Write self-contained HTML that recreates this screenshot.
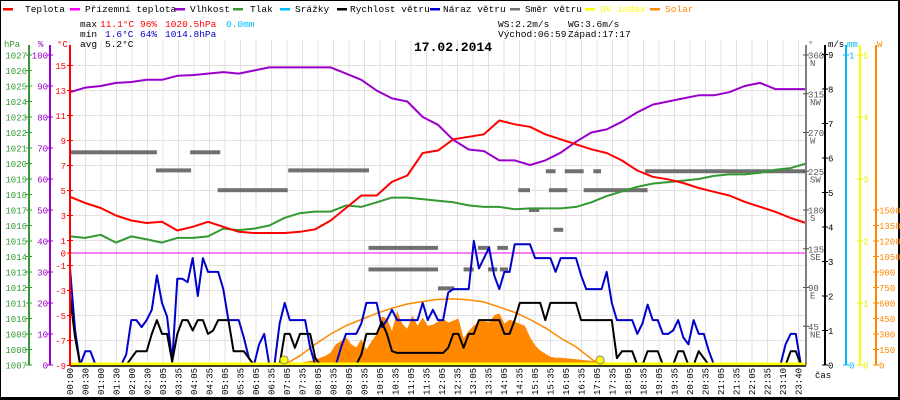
<!DOCTYPE html>
<html><head><meta charset="utf-8">
<style>
html,body{margin:0;padding:0;background:#fff;}
svg{display:block;font-family:"Liberation Mono","DejaVu Sans Mono",monospace;}
</style></head>
<body>
<svg id="chart" width="900" height="400" viewBox="0 0 900 400" xmlns="http://www.w3.org/2000/svg">
<rect x="0.5" y="0.5" width="899" height="399" fill="#fff" stroke="#000" stroke-width="1"/>
<rect x="0" y="397" width="900" height="3" fill="#000"/>
<rect x="898" y="0" width="2" height="400" fill="#000"/>
<g id="grid"></g>
<g id="legend" font-size="9.5"></g>
<g font-size="9.5">
<text x="80" y="27">max</text><text x="100" y="27" fill="#f00">11.1°C</text><text x="140" y="27" fill="#f00">96%</text><text x="165" y="27" fill="#f00">1020.5hPa</text><text x="226" y="27" fill="#0bf">0.0mm</text>
<text x="80" y="37">min</text><text x="105" y="37" fill="#00c">1.6°C</text><text x="140" y="37" fill="#00c">64%</text><text x="165" y="37" fill="#00c">1014.8hPa</text>
<text x="80" y="47">avg</text><text x="105" y="47">5.2°C</text>
<text x="498" y="27">WS:2.2m/s</text><text x="568" y="27">WG:3.6m/s</text>
<text x="498" y="37">Východ:06:59</text><text x="568" y="37">Západ:17:17</text>
</g>
<text x="414" y="51" font-size="13" font-weight="bold">17.02.2014</text>
<g id="series"></g>
<g id="axes" font-size="9"></g>
</svg>
<script>
// ---- data ----
const tempTimes30 = [0,30,60,90,120,150,180,210,240,270,300,330,360,390,420,450,480,510,540,570,600,630,660,690,720,750,780,810,840,870,900,930,960,990,1020,1050,1080,1110,1140,1170,1200,1230,1260,1290,1320,1350,1380,1410,1440];
const temperature = [4.5,4.0,3.6,3.0,2.6,2.4,2.5,1.8,2.1,2.5,2.1,1.7,1.6,1.6,1.6,1.7,1.9,2.6,3.6,4.6,4.6,5.7,6.2,8.0,8.2,9.1,9.3,9.5,10.6,10.3,10.1,9.5,9.1,8.7,8.3,8.0,7.4,6.6,6.1,5.9,5.6,5.2,4.9,4.6,4.1,3.7,3.3,2.8,2.4];
const humidity = [88,89.5,90,91,91.3,92,92,93.3,93.5,94,94.5,94,95,96,96,96,96,96,94,92,88.5,86,85,80,77.5,72.6,69.5,69,66,66,64.5,66,68.5,72,75,76,78.5,81.5,84,85,86,87,87,88,90,91,89,89,89];
const pressure = [1015.3,1015.2,1015.4,1014.9,1015.3,1015.1,1014.9,1015.2,1015.2,1015.3,1015.8,1015.7,1015.8,1016.0,1016.5,1016.8,1016.9,1016.9,1017.3,1017.2,1017.5,1017.8,1017.8,1017.7,1017.6,1017.5,1017.3,1017.2,1017.2,1017.05,1017.1,1017.1,1017.1,1017.2,1017.5,1017.9,1018.2,1018.5,1018.7,1018.8,1018.9,1019.0,1019.2,1019.3,1019.3,1019.4,1019.6,1019.7,1020.0];
// 10-minute samples, m/s
const windGust = [2.8,1.0,0,0.4,0.4,0,0,0,0,0,0,0.3,1.3,1.3,1.1,1.3,1.6,2.6,1.8,1.4,0.1,2.5,2.5,2.4,3.1,2.0,3.1,2.7,2.7,2.7,2.2,1.3,1.3,1.3,0.8,0.2,0,0.6,0.9,0,0,1.2,1.8,1.3,1.3,1.3,1.3,0.5,0,0,0,0,0,0.5,0.9,0.9,0.9,1.2,1.8,1.8,1.8,1.1,1.3,1.6,1.3,1.3,1.3,1.3,1.3,1.8,1.3,1.6,1.3,1.3,2.1,2.2,2.2,2.2,2.2,3.6,2.8,3.1,3.4,2.6,2.2,2.7,2.7,3.5,3.5,3.5,3.5,3.1,3.1,3.1,3.1,2.7,3.1,3.1,3.1,3.1,2.6,2.2,2.2,2.2,2.2,2.7,1.8,1.3,1.3,1.3,1.3,0.9,1.2,1.75,1.3,1.3,0.9,0.9,1.0,1.3,0.8,0.6,1.3,0.9,0.9,0.4,0,0,0,0,0,0,0,0,0,0,0,0,0,0,0.6,0.9,0.9,0,0];
const windSpeed = [2.0,0.8,0,0,0,0,0,0,0,0,0,0,0.2,0.4,0.4,0.4,0.9,1.3,0.9,0.9,0.1,0.9,1.3,1.3,1.0,1.3,1.3,0.9,1.0,1.3,1.3,1.3,0.4,0.4,0.4,0.2,0,0,0,0,0,0,0.9,0.9,0.5,0.9,0.9,0.9,0.2,0,0,0,0,0,0,0,0,0.3,0.9,0.9,0.9,1.25,0.9,0.4,0.35,0.35,0.35,0.35,0.35,0.35,0.35,0.35,0.35,0.35,0.5,0.9,0.9,0.5,0.9,0.9,1.3,1.3,1.3,1.3,1.3,0.9,0.9,1.3,1.8,1.8,1.8,1.8,1.8,1.3,1.8,1.8,1.8,1.8,1.8,1.8,1.3,1.3,1.3,1.3,1.3,1.3,1.3,0.2,0.4,0.4,0.4,0,0,0.4,0.4,0.4,0,0,0,0.4,0.4,0,0,0.4,0.2,0,0,0,0,0,0,0,0,0,0,0,0,0,0,0,0,0.4,0.4,0,0];
const solarStart = 420; // minutes, first solar sample
const solar = [0,5,15,20,30,40,50,70,90,120,200,230,270,200,170,250,150,230,300,470,450,330,520,400,350,480,380,460,380,390,420,450,410,430,450,260,330,380,420,430,410,480,500,400,440,420,400,380,270,190,140,110,80,70,70,65,60,55,50,45,40,35,30,25,20,20,15,12,10,8,6,4,2,0];
const clearSkyTimes = [419,450,480,510,540,570,600,630,660,690,720,750,780,810,840,870,900,930,960,990,1020,1037];
const clearSky = [0,90,200,300,380,440,500,550,590,615,635,640,630,610,560,510,440,360,260,175,60,0];
// wind direction segments: start min, end min, degrees
const dirStart = [0,168,235,289,427,584,584,720,770,798,818,836,841,877,898,937,931,955,968,946,1005,1024,1125,1123];
const dirEnd   = [170,237,294,426,585,720,720,752,790,822,836,857,857,900,918,958,950,973,1005,965,1130,1039,1440,1128];
const dirDeg   = [247,226,247,203,226,136,111,89,111,136,111,136,111,203,180,203,225,203,225,157,203,225,225,203];
const sunrise = 419, sunset = 1037;
const timeLabels = ["00:00","00:30","01:00","01:30","02:00","02:30","03:05","03:35","04:05","04:35","05:05","05:35","06:05","06:35","07:05","07:35","08:05","08:35","09:05","09:35","10:05","10:35","11:05","11:35","12:05","12:35","13:05","13:35","14:05","14:35","15:05","15:35","16:05","16:35","17:05","17:35","18:05","18:35","19:05","19:35","20:05","20:35","21:05","21:35","22:05","22:35","23:10","23:40"];
const tempTicks = [15,13,11,9,7,5,3,1,0,-1,-3,-5,-7,-9];
const hpaTicks = [1027,1026,1025,1024,1023,1022,1021,1020,1019,1018,1017,1016,1015,1014,1013,1012,1011,1010,1009,1008,1007];
const humTicks = [100,90,80,70,60,50,40,30,20,10,0];
const dirTicks = [360,315,270,225,180,135,90,45];
const dirNames = ["N","NW","W","SW","S","SE","E","NE"];
const msTicks = [9,8,7,6,5,4,3,2,1,0];
const uvTicks = [5,4,3,2,1,0];
const solarTicks = [1500,1350,1200,1050,900,750,600,450,300,150,0];

// ---- scales ----
const X0=70, X1=806, Y0=55, YB=365;
const xT = t => X0 + t*(X1-X0)/1440;
const yC = v => 253 - v*12.5;
const yH = v => YB - (v-1007)*15.5;
const yP = v => YB - v*3.1;
const yW = v => YB - v*34.5;
const yD = v => YB - v*310/360;
const yS = v => YB - v*0.10333;
const yUV = v => YB - v*62;
const yMM = v => YB - v*310;

const NS="http://www.w3.org/2000/svg";
function mk(tag, attrs, parent){const e=document.createElementNS(NS,tag);for(const k in attrs)e.setAttribute(k,attrs[k]);parent.appendChild(e);return e;}
const grid=document.getElementById('grid'), series=document.getElementById('series'), axes=document.getElementById('axes'), legend=document.getElementById('legend');

// grid
timeLabels.forEach((lb,i)=>{
  const x=X0+i*15.5;
  const l=mk('line',{x1:x,x2:x,y1:40,y2:YB,stroke:'#e4e0e0','stroke-width':1},grid);
  
  
  const t=mk('text',{x:0,y:0,'font-size':9,transform:`translate(${x+3},395) rotate(-90)`},axes);
  t.textContent=lb;
  
  
});
[15,13,11,9,7,5,3,1,-1,-3,-5,-7].forEach(v=>{
  const l=mk('line',{x1:X0,x2:X1,y1:yC(v),y2:yC(v),stroke:'#e4e0e0','stroke-width':1},grid);
  
  
});

// legend
const legItems=[["Teplota","#f00",3,25],["Přízemní teplota","#f0f",70,85],["Vlhkost","#90c",175,190],["Tlak","#393",233,250],["Srážky","#0bf",280,295],["Rychlost větru","#000",337,350],["Náraz větru","#00c",430,443],["Směr větru","#707070",510,525],["UV index","#ff0",585,600],["Solar","#f80",650,665]];
legItems.forEach(it=>{
  const g=mk('g',{},legend);
  
  
  mk('rect',{x:it[2],y:8,width:10,height:2.5,fill:it[1]},g);
  const t=mk('text',{x:it[3],y:12,fill:(it[0]==="UV index"||it[0]==="Solar")?it[1]:'#000'},g);
  t.textContent=it[0];
});

function pathFrom(xs, ys){return xs.map((x,i)=>(i?'L':'M')+x.toFixed(1)+' '+ys[i].toFixed(1)).join(' ');}

// solar fill
{
  const xs=solar.map((v,i)=>xT(solarStart+i*10));
  const ys=solar.map(v=>yS(v));
  const d=pathFrom(xs,ys)+` L${xs[xs.length-1]} ${YB} L${xs[0]} ${YB} Z`;
  const p=mk('path',{d:d,fill:'#f80',stroke:'none'},series);
  
  
  const c=mk('path',{d:pathFrom(clearSkyTimes.map(xT),clearSky.map(yS)),fill:'none',stroke:'#f80','stroke-width':1.5},series);
  
  
}
// ground temp (magenta) at 0
{
  const l=mk('line',{x1:X0,x2:X1,y1:yC(0),y2:yC(0),stroke:'#e0e',
  'stroke-width':1},series);
  
  
}
// wind direction bars
dirDeg.forEach((d,i)=>{
  const r=mk('rect',{x:xT(dirStart[i]),y:yD(d)-2,width:xT(dirEnd[i])-xT(dirStart[i]),height:4,fill:'#707070'},series);
  
  
});
// wind lines
function stepLine(arr, yf, color, name){
  const xs=arr.map((v,i)=>xT(i*10)), ys=arr.map(yf);
  const p=mk('path',{d:pathFrom(xs,ys),fill:'none',stroke:color,'stroke-width':2,'stroke-linejoin':'round'},series);
  
  
}
stepLine(windGust,yW,'#00c','wind-gust-line');
stepLine(windSpeed,yW,'#000','wind-speed-line');
function line30(arr, yf, color, name){
  const p=mk('path',{d:pathFrom(tempTimes30.map(xT),arr.map(yf)),fill:'none',stroke:color,'stroke-width':2,'stroke-linejoin':'round'},series);
  
  
}
line30(pressure,yH,'#393','pressure-line');
line30(humidity,yP,'#90c','humidity-line');
line30(temperature,yC,'#f00','temperature-line');
// UV baseline
{
  const l=mk('line',{x1:X0,x2:X1,y1:YB-1,y2:YB-1,stroke:'#ff0','stroke-width':3},series);
  
  
  [sunrise,sunset].forEach(t=>{
    const c=mk('circle',{cx:xT(t),cy:360,r:4,fill:'#ff0',stroke:'#886','stroke-width':1},series);
    
    
  });
}
// axes
function vline(x,color,name){const l=mk('line',{x1:x,x2:x,y1:Y0-10,y2:YB,stroke:color,'stroke-width':2},axes);}
mk('line',{x1:X0,x2:X1,y1:YB+1,y2:YB+1,stroke:'#000','stroke-width':1.5},axes);
vline(29,'#393','pressure-axis'); vline(50,'#90c','humidity-axis'); vline(X0,'#f00','temperature-axis');
vline(X1,'#808080','direction-axis'); vline(825,'#000','wind-axis'); vline(846,'#0bf','rain-axis'); vline(860,'#ff0','uv-axis'); vline(876,'#f80','solar-axis');
function tick(x,y,label,color,anchor,tx,name){
  mk('line',{x1:x-3,x2:x+3,y1:y,y2:y,stroke:color,'stroke-width':1},axes);
  const t=mk('text',{x:tx,y:y+3.5,fill:color,'text-anchor':anchor},axes);
  t.textContent=label;
  
  
}
hpaTicks.forEach(v=>tick(29,yH(v),String(v),'#393','end',27,'pressure-tick-label'));
humTicks.forEach(v=>tick(50,yP(v),String(v),'#90c','end',48,'humidity-tick-label'));
tempTicks.forEach(v=>tick(X0,yC(v),String(v),'#f00','end',66,'temperature-tick-label'));
dirTicks.forEach((v,i)=>{tick(X1,yD(v),String(v),'#555','start',808,'direction-tick-label');
  const t=mk('text',{x:810,y:yD(v)+11,fill:'#555'},axes);t.textContent=dirNames[i];
  });
msTicks.forEach(v=>tick(825,yW(v),String(v),'#000','start',828,'wind-tick-label'));
tick(846,yMM(1),'1','#0bf','start',849,'rain-tick-label');tick(846,yMM(0),'0','#0bf','start',849,'rain-tick-label');
uvTicks.forEach(v=>tick(860,yUV(v),String(v),'#ee0','start',863,'uv-tick-label'));
solarTicks.forEach(v=>tick(876,yS(v),String(v),'#f80','start',879,'solar-tick-label'));
[["hPa",4,'#393'],["%",38,'#90c'],["°C",57,'#f00'],["°",808,'#555'],["m/s",828,'#000'],["mm",847,'#0bf'],["W",877,'#f80']].forEach(h=>{
  const t=mk('text',{x:h[1],y:47,fill:h[2]},axes);t.textContent=h[0];
  
});
{const t=mk('text',{x:815,y:378,fill:'#000'},axes);t.textContent='čas';}
</script>
</body></html>
